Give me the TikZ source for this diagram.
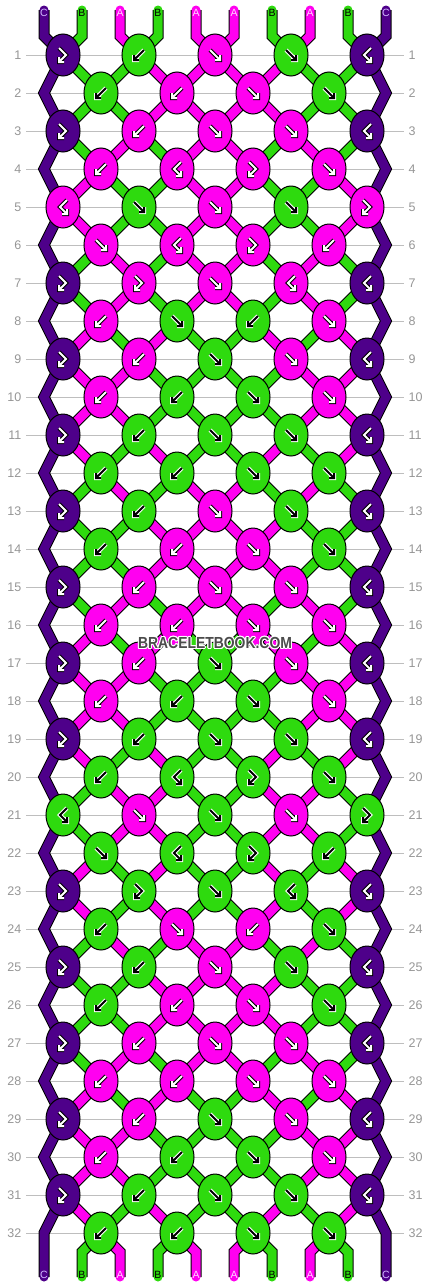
\documentclass[tikz,border=0pt]{standalone}
\usepackage{fontspec}
\setmainfont{Liberation Sans}
\usepackage{contour}
\usetikzlibrary{shapes.geometric,backgrounds}

\definecolor{colA}{RGB}{255,0,240}
\definecolor{colB}{RGB}{46,218,14}
\definecolor{colC}{RGB}{78,0,138}
\colorlet{fgA}{white}\colorlet{bgA}{black}
\colorlet{fgB}{black}\colorlet{bgB}{white}
\colorlet{fgC}{white}\colorlet{bgC}{black}
\definecolor{lblA}{RGB}{255,215,255}
\definecolor{lblB}{RGB}{0,0,0}
\definecolor{lblC}{RGB}{210,185,255}
\definecolor{rowgray}{RGB}{190,190,190}
\definecolor{numgray}{RGB}{150,150,150}
\definecolor{wmgray}{RGB}{75,75,75}
\contourlength{1.1pt}

\tikzset{
  knot/.style={ellipse, draw=black, line width=1pt, fill=col#1,
    minimum width=34pt, minimum height=42pt, inner sep=0pt},
  thread/.style={draw=col#1, line width=9pt, line join=miter,
    preaction={draw=black, line width=11pt}},
  rowline/.style={draw=rowgray, line width=1pt},
  rownum/.style={text=numgray, inner sep=0pt, font=\fontsize{12.5}{14}\selectfont},
  strlabel/.style={text=lbl#1, inner sep=0pt, font=\fontsize{10.5}{12}\selectfont},
  arrline/.style={draw=fg#1, line width=2pt, line join=miter,
    preaction={draw=bg#1, line width=4pt}},
  pics/arrf/.style={code={\draw[arrline=#1] (-5,-5) -- (5,5) (0,5) -- (5,5) -- (5,0);}},
  pics/arrb/.style={code={\draw[arrline=#1] (5,-5) -- (-5,5) (0,5) -- (-5,5) -- (-5,0);}},
  pics/arrF/.style={code={\draw[arrline=#1] (-4,-7) -- (3,0) -- (-4,7) (1,7) -- (-4,7) -- (-4,2);}},
  pics/arrG/.style={code={\draw[arrline=#1] (4,-7) -- (-3,0) -- (4,7) (-1,7) -- (4,7) -- (4,2);}},
}

\begin{document}
\begin{tikzpicture}[x=1pt,y=-1pt]
\useasboundingbox (0,0) rectangle (430,1288);

%knots
\foreach \rw/\kl in {
  1/{C/F,B/b,A/f,B/f,C/G},  2/{B/b,A/b,A/f,B/f},
  3/{C/F,A/b,A/f,A/f,C/G},  4/{A/b,A/G,A/F,A/f},
  5/{A/G,B/f,A/f,B/f,A/F},  6/{A/f,A/G,A/F,A/b},
  7/{C/F,A/F,A/f,A/G,C/G},  8/{A/b,B/f,B/b,A/f},
  9/{C/F,A/b,B/f,A/f,C/G}, 10/{A/b,B/b,B/f,A/f},
 11/{C/F,B/b,B/f,B/f,C/G}, 12/{B/b,B/b,B/f,B/f},
 13/{C/F,B/b,A/f,B/f,C/G}, 14/{B/b,A/b,A/f,B/f},
 15/{C/F,A/b,A/f,A/f,C/G}, 16/{A/b,A/b,A/f,A/f},
 17/{C/F,A/b,B/f,A/f,C/G}, 18/{A/b,B/b,B/f,A/f},
 19/{C/F,B/b,B/f,B/f,C/G}, 20/{B/b,B/G,B/F,B/f},
 21/{B/G,A/f,B/f,A/f,B/F}, 22/{B/f,B/G,B/F,B/b},
 23/{C/F,B/F,B/f,B/G,C/G}, 24/{B/b,A/f,A/b,B/f},
 25/{C/F,B/b,A/f,B/f,C/G}, 26/{B/b,A/b,A/f,B/f},
 27/{C/F,A/b,A/f,A/f,C/G}, 28/{A/b,A/b,A/f,A/f},
 29/{C/F,A/b,B/f,A/f,C/G}, 30/{A/b,B/b,B/f,A/f},
 31/{C/F,B/b,B/f,B/f,C/G}, 32/{B/b,B/b,B/f,B/f}}
{
  \foreach \cl/\ty [count=\kx from 0] in \kl {
    \node[knot=\cl] (k-\rw-\kx) at ({63+76*\kx+38*(1-mod(\rw,2))},{17+38*\rw}) {};
    \pic at (k-\rw-\kx) {arr\ty=\cl};
  }
}

%string ends and edge bends
\foreach \ps in {0,...,9} {
  \coordinate (top-\ps) at ({44+38*\ps},10);
  \coordinate (tb-\ps) at ({44+38*\ps},36);
  \coordinate (bb-\ps) at ({44+38*\ps},1252);
  \coordinate (bot-\ps) at ({44+38*\ps},1277);
}
\foreach \rw in {2,4,...,32} {
  \coordinate (eL-\rw) at (44,{17+38*\rw});
  \coordinate (eR-\rw) at (386,{17+38*\rw});
}

\begin{scope}[on background layer]
\fill[white] (0,0) rectangle (430,1288);

%row lines and numbers
\foreach \rw in {1,...,32} {
  \draw[rowline] (26,{17+38*\rw}) -- (404,{17+38*\rw});
  \node[rownum, anchor=east] (nl-\rw) at (21.5,{17+38*\rw}) {\rw};
  \node[rownum, anchor=west] (nr-\rw) at (408.5,{17+38*\rw}) {\rw};
}

%edge strings
\draw[thread=C, line cap=round] (top-0) -- (tb-0)
  \foreach \rw [evaluate=\rw as \sw using int(\rw+1)] in {1,3,...,31} { -- (k-\rw-0.center) -- (eL-\sw) } -- (bot-0);
\draw[thread=C, line cap=round] (top-9) -- (tb-9)
  \foreach \rw [evaluate=\rw as \sw using int(\rw+1)] in {1,3,...,31} { -- (k-\rw-4.center) -- (eR-\sw) } -- (bot-9);

%top and bottom strings
\foreach \cl [count=\ps] in {B,A,B,A,A,B,A,B} {
  \pgfmathtruncatemacro\ka{floor(\ps/2)}
  \pgfmathtruncatemacro\kb{floor((\ps-1)/2)}
  \draw[thread=\cl, line cap=round] (top-\ps) -- (tb-\ps) -- (k-1-\ka.center);
  \draw[thread=\cl, line cap=round] (k-32-\kb.center) -- (bb-\ps) -- (bot-\ps);
}

%threads between rows
\foreach \rw/\st in {
  1/{B,B,A,A,A,A,B,B},  2/{B,B,A,A,A,A,B,B},  3/{B,A,B,A,A,B,A,B},
  4/{A,B,B,A,A,B,B,A},  5/{A,B,B,A,A,B,B,A},  6/{B,A,B,A,A,B,A,B},
  7/{B,A,B,A,A,B,A,B},  8/{A,B,A,B,B,A,B,A},  9/{A,A,B,B,B,B,A,A},
 10/{A,A,B,B,B,B,A,A}, 11/{A,B,A,B,B,A,B,A}, 12/{B,A,B,A,A,B,A,B},
 13/{B,B,A,A,A,A,B,B}, 14/{B,B,A,A,A,A,B,B}, 15/{B,A,B,A,A,B,A,B},
 16/{A,B,A,B,B,A,B,A}, 17/{A,A,B,B,B,B,A,A}, 18/{A,A,B,B,B,B,A,A},
 19/{A,B,A,B,B,A,B,A}, 20/{B,A,A,B,B,A,A,B}, 21/{B,A,A,B,B,A,A,B},
 22/{A,B,A,B,B,A,B,A}, 23/{A,B,A,B,B,A,B,A}, 24/{B,A,B,A,A,B,A,B},
 25/{B,B,A,A,A,A,B,B}, 26/{B,B,A,A,A,A,B,B}, 27/{B,A,B,A,A,B,A,B},
 28/{A,B,A,B,B,A,B,A}, 29/{A,A,B,B,B,B,A,A}, 30/{A,A,B,B,B,B,A,A},
 31/{A,B,A,B,B,A,B,A}}
{
  \foreach \cl [count=\ps] in \st {
    \pgfmathtruncatemacro\ka{floor((\ps-1+mod(\rw,2))/2)}
    \pgfmathtruncatemacro\kb{floor((\ps-mod(\rw,2))/2)}
    \pgfmathtruncatemacro\rn{\rw+1}
    \draw[thread=\cl] (k-\rw-\ka.center) -- (k-\rn-\kb.center);
  }
}
\end{scope}

%string letters
\foreach \cl [count=\ps from 0] in {C,B,A,B,A,A,B,A,B,C} {
  \node[strlabel=\cl] (lt-\ps) at ({44+38*\ps},12.5) {\cl};
  \node[strlabel=\cl] (lb-\ps) at ({44+38*\ps},1275) {\cl};
}

%watermark
\node[text=wmgray, inner sep=0pt, font=\bfseries\fontsize{16}{16}\selectfont] (wm) at (215,643.5)
  {\scalebox{0.87}[1]{\contour{white}{BRACELETBOOK.COM}}};
\end{tikzpicture}
\end{document}
